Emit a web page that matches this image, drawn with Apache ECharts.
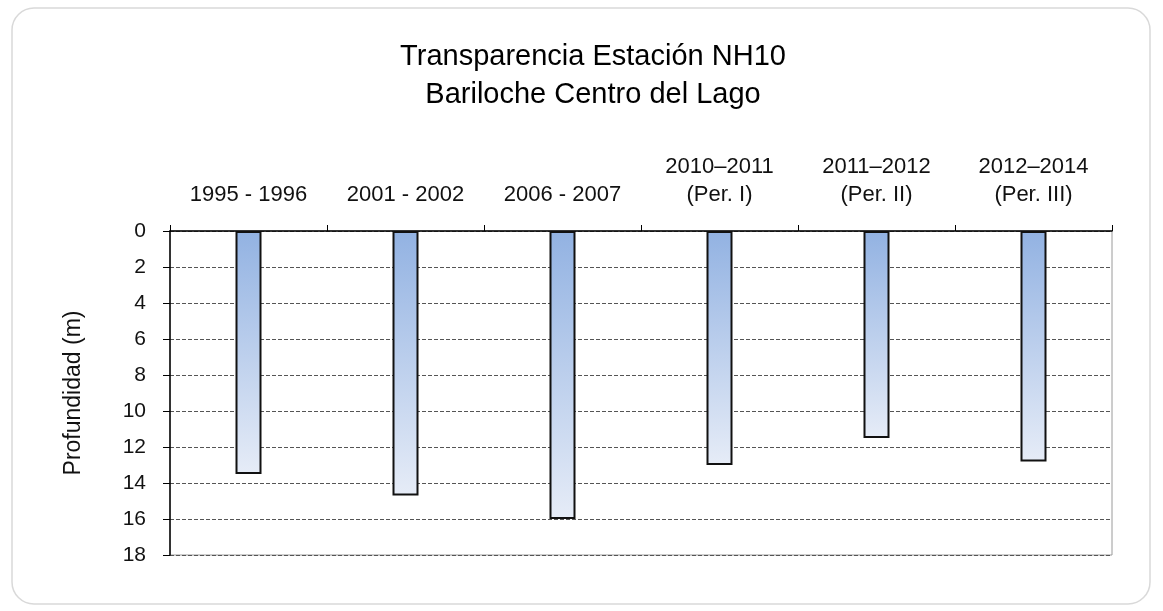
<!DOCTYPE html>
<html>
<head>
<meta charset="utf-8">
<script src="https://cdn.jsdelivr.net/npm/echarts@6/dist/echarts.min.js"></script>
<style>
html,body{margin:0;padding:0;background:#fff;}
#chart{width:1163px;height:611px;}
</style>
</head>
<body>
<div id="chart"></div>
<script>
const categories = ['1995 - 1996', '2001 - 2002', '2006 - 2007', '2010\u20132011\n(Per. I)', '2011\u20132012\n(Per. II)', '2012\u20132014\n(Per. III)'];
const depths = [13.5, 14.7, 16.0, 13.0, 11.5, 12.8];
const yTicks = { min: 0, max: 18, interval: 2 };

const chart = echarts.init(document.getElementById('chart'));
const font = 'Liberation Sans, Arial, sans-serif';
chart.setOption({
  backgroundColor: '#fff',
  animation: false,
  graphic: [{
    type: 'rect',
    shape: { x: 12, y: 8, width: 1138, height: 596, r: 22 },
    style: { fill: '#fff', stroke: '#d9d9d9', lineWidth: 1.5 },
    z: -10
  }],
  title: {
    text: 'Transparencia Estación NH10\nBariloche Centro del Lago',
    left: 588, top: 33, textAlign: 'center',
    textStyle: { fontFamily: font, fontSize: 29, fontWeight: 'normal', color: '#000', lineHeight: 38 }
  },
  grid: { left: 170, right: 51, top: 231, bottom: 56, show: true, borderColor: '#9a9a9a', borderWidth: 1, backgroundColor: 'transparent' },
  xAxis: {
    type: 'category', position: 'top', data: categories,
    axisLine: { lineStyle: { color: '#000', width: 1.5 } },
    axisTick: { show: true, length: 6, lineStyle: { color: '#000' } },
    axisLabel: { fontFamily: font, fontSize: 22, color: '#111', margin: 22, lineHeight: 28 }
  },
  yAxis: {
    type: 'value', inverse: true, min: yTicks.min, max: yTicks.max, interval: yTicks.interval,
    name: 'Profundidad (m)', nameLocation: 'middle', nameGap: 85, nameRotate: 90,
    nameTextStyle: { fontFamily: font, fontSize: 23, color: '#111' },
    axisLine: { show: true, lineStyle: { color: '#000', width: 1.5 } },
    axisTick: { show: true, length: 7, lineStyle: { color: '#000' } },
    axisLabel: { fontFamily: font, fontSize: 21, color: '#111', margin: 24 },
    splitLine: { show: true, lineStyle: { color: '#555', type: [4, 2], width: 1 } }
  },
  series: [{
    type: 'bar', data: depths, barWidth: 26,
    itemStyle: {
      color: new echarts.graphic.LinearGradient(0, 0, 0, 1, [
        { offset: 0, color: '#92b2e2' },
        { offset: 1, color: '#e6ecf7' }
      ]),
      borderColor: '#111', borderWidth: 2
    }
  }]
});
</script>
</body>
</html>
